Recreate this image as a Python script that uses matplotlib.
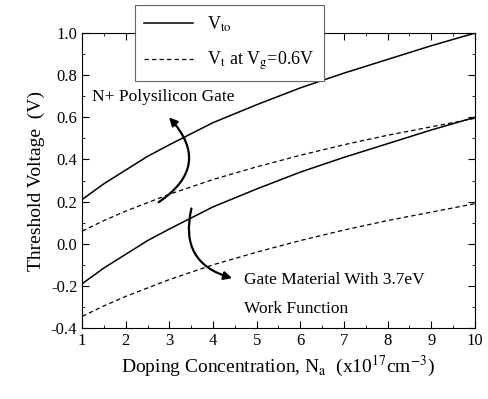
import numpy as np
import matplotlib
matplotlib.use("Agg")
import matplotlib.pyplot as plt
from matplotlib.ticker import MultipleLocator

plt.rcParams['font.family'] = ['Liberation Serif', 'DejaVu Serif']
plt.rcParams['mathtext.fontset'] = 'stix'

# doping concentration (x1e17 cm^-3)
doping = [1, 1.5, 2, 2.5, 3, 4, 5, 6, 7, 8, 9, 10]
# N+ polysilicon gate
vto_npoly = [0.21, 0.285, 0.35, 0.415, 0.47, 0.575, 0.66, 0.74, 0.81, 0.875, 0.94, 1.00]
vt_npoly = [0.06, 0.11, 0.155, 0.195, 0.235, 0.305, 0.365, 0.42, 0.47, 0.515, 0.555, 0.595]
# gate material with 3.7eV work function
vto_37 = [-0.19, -0.115, -0.05, 0.015, 0.07, 0.175, 0.26, 0.34, 0.41, 0.475, 0.54, 0.60]
vt_37 = [-0.345, -0.295, -0.25, -0.21, -0.17, -0.10, -0.04, 0.015, 0.065, 0.11, 0.15, 0.19]

fig = plt.figure(figsize=(4.89, 3.99), dpi=100)
ax = fig.add_axes([0.168, 0.178, 0.803, 0.739])

l1, = ax.plot(doping, vto_npoly, 'k-', lw=1.1)
l2, = ax.plot(doping, vt_npoly, 'k--', lw=0.9, dashes=(3.5, 2.5))
ax.plot(doping, vto_37, 'k-', lw=1.1)
ax.plot(doping, vt_37, 'k--', lw=0.9, dashes=(3.5, 2.5))

ax.set_xlim(1, 10)
ax.set_ylim(-0.4, 1.0)
ax.xaxis.set_major_locator(MultipleLocator(1))
ax.xaxis.set_minor_locator(MultipleLocator(0.5))
ax.yaxis.set_minor_locator(MultipleLocator(0.1))
ax.set_yticks(np.arange(-0.4, 1.01, 0.2))
ax.set_yticklabels(['-0.4', '-0.2', '0.0', '0.2', '0.4', '0.6', '0.8', '1.0'])
ax.tick_params(which='both', direction='in', top=True, right=True, labelsize=12)
ax.tick_params(which='major', length=5)
ax.tick_params(which='minor', length=2.5)

ax.set_xlabel(r'Doping Concentration, N$_{\rm a}$  (x10$^{17}$cm$^{-3}$)', fontsize=14)
ax.set_ylabel('Threshold Voltage  (V)', fontsize=14)

ax.text(1.23, 0.695, 'N+ Polysilicon Gate', fontsize=12.5, va='center')
ax.text(4.72, -0.17, 'Gate Material With 3.7eV', fontsize=12.5, va='center')
ax.text(4.72, -0.31, 'Work Function', fontsize=12.5, va='center')

ax.annotate('', xy=(2.95, 0.61), xytext=(2.7, 0.19),
            arrowprops=dict(arrowstyle='-|>', color='k', lw=1.6,
                            connectionstyle='arc3,rad=0.6', mutation_scale=12))
ax.annotate('', xy=(4.5, -0.167), xytext=(3.52, 0.18),
            arrowprops=dict(arrowstyle='-|>', color='k', lw=1.6,
                            connectionstyle='arc3,rad=0.5', mutation_scale=12))

leg = fig.legend([l1, l2], [r'V$_{\rm to}$', r'V$_{\rm t}$ at V$_{\rm g}$=0.6V'],
                 loc='upper left', bbox_to_anchor=(0.276, 0.987), fontsize=13,
                 fancybox=False, edgecolor='0.4', framealpha=1, borderaxespad=0,
                 handlelength=2.7, labelspacing=0.9, borderpad=0.5)
leg.get_frame().set_linewidth(0.8)

fig.savefig('out.png', dpi=100)
